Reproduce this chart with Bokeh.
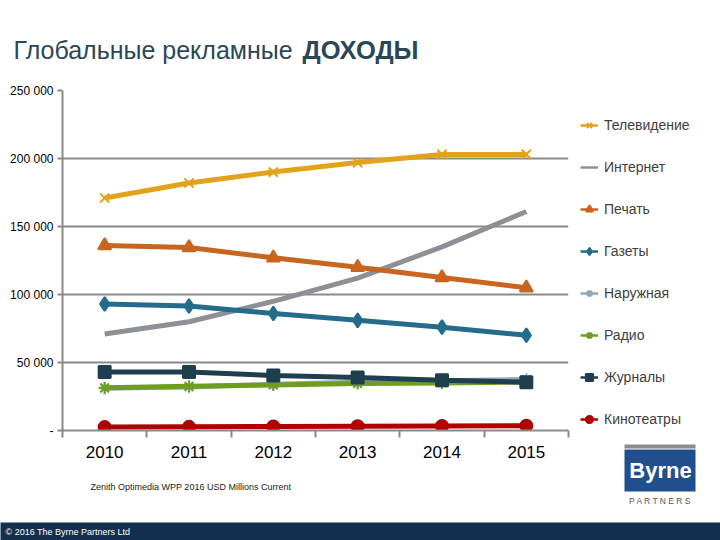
from bokeh.plotting import figure
from bokeh.layouts import column, row
from bokeh.models import Range1d, FixedTicker, Label, Legend, LegendItem
from bokeh.embed import file_html
from bokeh.resources import INLINE

# Global advertising revenue, USD millions (Zenith Optimedia)
years = ["2010", "2011", "2012", "2013", "2014", "2015"]
tv = [171000, 182000, 190000, 197000, 203000, 203000]
internet = [71000, 80000, 95000, 112000, 135000, 161000]
press = [136000, 134500, 127000, 120000, 112500, 105000]
newspapers = [93000, 91500, 86000, 81000, 76000, 70000]
outdoor = [31000, 32000, 34000, 35500, 36500, 37500]
radio = [31500, 32500, 33500, 34500, 35000, 35500]
magazines = [43000, 43000, 40500, 39000, 37000, 35500]
cinema = [2500, 2700, 2900, 3100, 3300, 3500]

y_ticks = [0, 50000, 100000, 150000, 200000, 250000]
y_tick_labels = ["-", "50 000", "100 000", "150 000", "200 000", "250 000"]

FONT = "Liberation Sans"
AXIS_GREY = "#8a8a8a"
TITLE_COLOR = "#2b4756"

series = [
    ("Телевидение", tv, "#e2a31b", "x", 13),
    ("Интернет", internet, "#8d9196", None, 0),
    ("Печать", press, "#c8661f", "triangle", 13),
    ("Газеты", newspapers, "#256c8c", "diamond", 14),
    ("Наружная", outdoor, "#8fa8bb", "asterisk", 12),
    ("Радио", radio, "#6f9d1f", "asterisk", 12),
    ("Журналы", magazines, "#1f3f4e", "square", 12),
    ("Кинотеатры", cinema, "#b00000", "circle", 12),
]

# keep every panel's frame where it is placed (no cross-plot alignment)
NO_ALIGN = {"frame_align": False} if "frame_align" in figure.properties() else {}


def blank(width, height, x0, x1, y_bottom, y_top):
    """A plain drawing area without axes, in page-like pixel coordinates."""
    f = figure(width=width, height=height, output_backend="svg",
               toolbar_location=None, x_range=Range1d(x0, x1),
               y_range=Range1d(y_bottom, y_top), x_axis_location=None,
               y_axis_location=None, min_border=0,
               background_fill_color="white", border_fill_color="white",
               **NO_ALIGN)
    f.outline_line_color = None
    f.grid.visible = False
    return f


# ---- title ------------------------------------------------------------
head = blank(575, 70, 0, 575, 70, 0)
head.add_layout(Label(x=13, y=49, text="Глобальные рекламные", text_font=FONT,
                      text_font_size="25px", text_color=TITLE_COLOR,
                      text_baseline="middle"))
head.add_layout(Label(x=302, y=49, text="ДОХОДЫ", text_font=FONT,
                      text_font_style="bold", text_font_size="25.5px",
                      text_color=TITLE_COLOR, text_baseline="middle"))

# ---- chart ------------------------------------------------------------
xs = [i + 0.5 for i in range(len(years))]

p = figure(width=575, height=400, output_backend="svg", toolbar_location=None,
           x_range=Range1d(0, len(years)), y_range=Range1d(0, 250000),
           min_border_left=62, min_border_right=7, min_border_top=20,
           min_border_bottom=40, background_fill_color="white",
           border_fill_color="white", **NO_ALIGN)
p.outline_line_color = None
p.xgrid.grid_line_color = None
p.ygrid.grid_line_color = AXIS_GREY
p.ygrid.grid_line_width = 2
p.ygrid.ticker = FixedTicker(ticks=y_ticks)

# year labels sit in the middle of each slot, tick marks on the boundaries
xa = p.xaxis[0]
xa.ticker = FixedTicker(ticks=xs, minor_ticks=list(range(len(years) + 1)))
xa.major_label_overrides = {x: y for x, y in zip(xs, years)}
xa.major_tick_line_color = None
xa.major_tick_out = 0
xa.major_tick_in = 0
xa.minor_tick_line_color = AXIS_GREY
xa.minor_tick_line_width = 2
xa.minor_tick_out = 7
xa.minor_tick_in = 0
xa.axis_line_color = AXIS_GREY
xa.axis_line_width = 2
xa.major_label_text_font = FONT
xa.major_label_text_font_size = "17px"
xa.major_label_text_color = "black"
xa.major_label_standoff = 8

ya = p.yaxis[0]
ya.ticker = FixedTicker(ticks=y_ticks)
ya.major_label_overrides = {t: l for t, l in zip(y_ticks, y_tick_labels)}
ya.minor_tick_line_color = None
ya.major_tick_line_color = AXIS_GREY
ya.major_tick_line_width = 2
ya.major_tick_out = 5
ya.major_tick_in = 0
ya.axis_line_color = AXIS_GREY
ya.axis_line_width = 2
ya.major_label_text_font = FONT
ya.major_label_text_font_size = "12px"
ya.major_label_text_color = "black"
ya.major_label_standoff = 4

for name, vals, color, marker, size in series:
    p.line(xs, vals, line_color=color, line_width=5)
    if marker:
        p.scatter(xs, vals, marker=marker, size=size, fill_color=color,
                  line_color=color, line_width=2)

# ---- source note -------------------------------------------------------
note = blank(575, 52, 0, 575, 522, 470)
note.add_layout(Label(x=90, y=486,
                      text="Zenith Optimedia WPP 2016 USD Millions Current",
                      text_font=FONT, text_font_size="9px",
                      text_color="#222222", text_baseline="middle"))

# ---- right column: legend and logo -------------------------------------
side = blank(145, 522, 575, 720, 522, 0)
# legend keys: same series drawn in this panel, lying outside its visible range
items = []
for name, vals, color, marker, size in series:
    rs = [side.line(xs, vals, line_color=color, line_width=2.5)]
    if marker:
        rs.append(side.scatter(xs, vals, marker=marker, size=size - 2,
                               fill_color=color, line_color=color,
                               line_width=2))
    items.append(LegendItem(label=name, renderers=rs))

legend = Legend(items=items, location=(5, 93), orientation="vertical",
                spacing=22, glyph_height=20, glyph_width=18, label_height=20,
                label_standoff=6, padding=0, margin=0,
                label_text_font=FONT, label_text_font_size="14px",
                label_text_color="#404040", background_fill_alpha=0,
                border_line_color=None)
side.add_layout(legend)

side.quad(left=[624], right=[695], top=[444], bottom=[448],
          fill_color="#8c8c8c", line_color=None)
side.quad(left=[624], right=[695], top=[449], bottom=[491],
          fill_color="#1f4f8d", line_color=None)
side.add_layout(Label(x=660, y=470, text="Byrne", text_font=FONT,
                      text_font_style="bold", text_font_size="22px",
                      text_color="white", text_align="center",
                      text_baseline="middle"))
side.add_layout(Label(x=660, y=500, text="P A R T N E R S", text_font=FONT,
                      text_font_size="8.5px", text_color="#555555",
                      text_align="center", text_baseline="middle"))

# ---- footer bar ---------------------------------------------------------
foot = blank(720, 18, 0, 720, 540, 522)
foot.background_fill_color = "#13304d"
foot.border_fill_color = "#13304d"
foot.add_layout(Label(x=5, y=531, text="© 2016  The Byrne Partners Ltd",
                      text_font=FONT, text_font_size="9px",
                      text_color="white", text_baseline="middle"))

layout = column(row(column(head, p, note, spacing=0), side, spacing=0),
                foot, spacing=0)

open("out.html", "w").write(file_html(layout, INLINE))
